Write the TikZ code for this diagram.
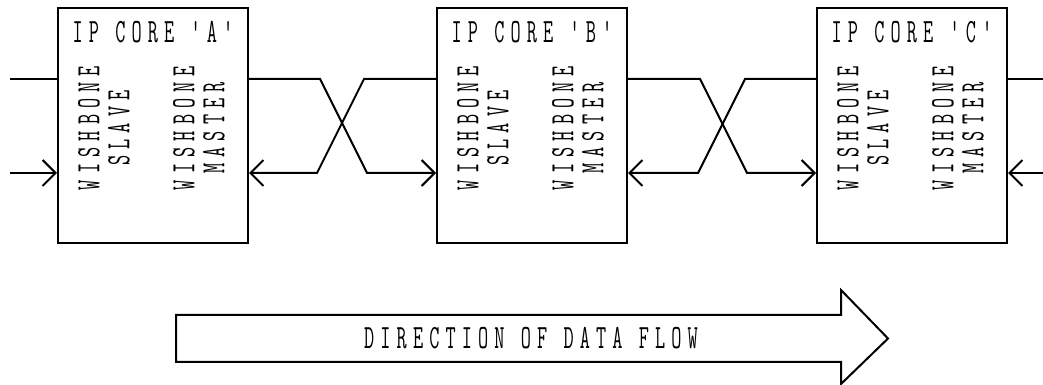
\documentclass[tikz,border=0pt]{standalone}
\usepackage{fontspec}
\usepackage{tikz}
\usetikzlibrary{arrows.meta,calc,positioning}
\newfontfamily\coremono[FakeStretch=0.58,LetterSpace=18,Ligatures=TeXOff]{Latin Modern Mono}
\tikzset{
  core/.style={draw, line width=2pt, minimum width=190pt, minimum height=235pt, inner sep=0pt},
  coretext/.style={font=\coremono\fontsize{34}{30}\selectfont, inner sep=0pt},
  port/.style={line width=2pt},
  inport/.style={port, -{Straight Barb[length=13pt,width=26pt]}}
}

\begin{document}
\begin{tikzpicture}[x=1pt,y=1pt]
\useasboundingbox (0,0) rectangle (1043,385);
% the three cores
\foreach \n/\x in {A/153,B/532,C/912}{
  \node[core] (core\n) at (\x,259.5) {};
  \node[coretext] (title\n) at (\x,353) {IP CORE '\n'};
  \node[coretext,rotate=90,align=center] (slave\n) at ($(core\n)+(-49,-2.5)$) {WISHBONE\\SLAVE};
  \node[coretext,rotate=90,align=center] (master\n) at ($(core\n)+(46,-2.5)$) {WISHBONE\\MASTER};
  \coordinate (sx\n) at ($(core\n.west)+(0,46.5)$);
  \coordinate (si\n) at ($(core\n.west)+(0,-47.5)$);
  \coordinate (mo\n) at ($(core\n.east)+(0,46.5)$);
  \coordinate (mi\n) at ($(core\n.east)+(0,-47.5)$);
}
\coordinate (leftUp) at (10,306);
\coordinate (leftDn) at (10,212);
\coordinate (rightUp) at (1043,306);
\coordinate (rightDn) at (1043,212);

\draw[port] (leftUp) -- (sxA);
\draw[inport] (leftDn) -- (siA);
% crossed links
\draw[inport] (moA) -- ++(71,0) -- ++(47,-94) -- (siB);
\draw[inport] (sxB) -- ++(-72,0) -- ++(-47,-94) -- (miA);
\draw[inport] (moB) -- ++(72,0) -- ++(47,-94) -- (siC);
\draw[inport] (sxC) -- ++(-71,0) -- ++(-47,-94) -- (miB);
\draw[port] (moC) -- (rightUp);
\draw[inport] (rightDn) -- (miC);

% data flow arrow
\draw[port] (176,70) -- (841,70) -- (841,95) -- (888,46.5) -- (841,1) -- (841,23) -- (176,23) -- cycle;
\node[coretext] (flow) at (531,46.5) {DIRECTION OF DATA FLOW};
\end{tikzpicture}
\end{document}
